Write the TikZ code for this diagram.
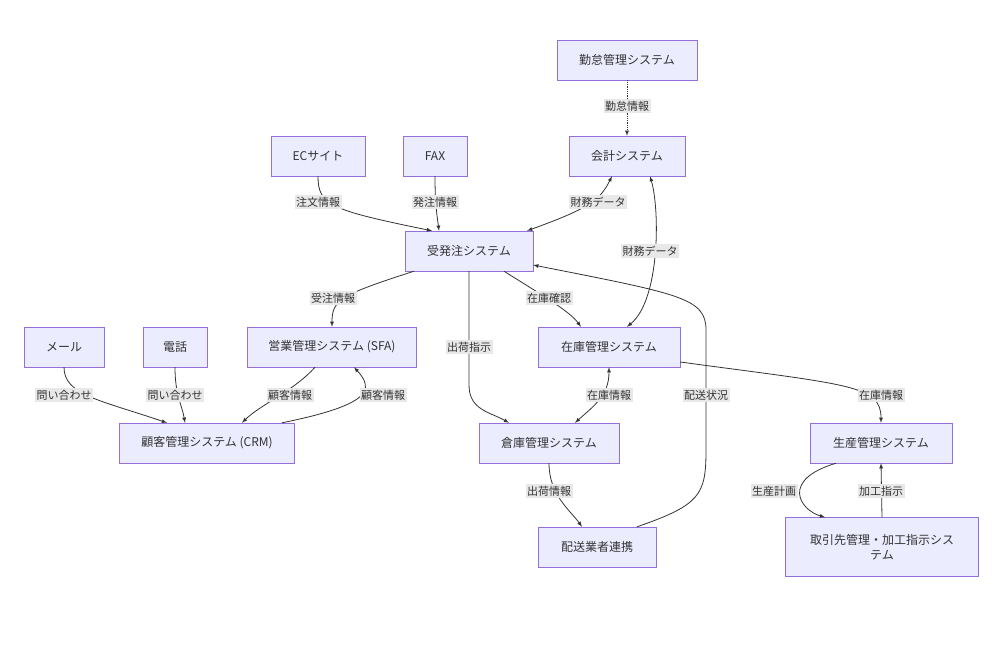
\documentclass[tikz,border=0pt]{standalone}
\usepackage{fontspec}
\setmainfont{Noto Sans CJK JP}
\definecolor{boxfill}{HTML}{ECECFF}
\definecolor{boxline}{HTML}{9370DB}
\definecolor{edgecol}{HTML}{333333}
\definecolor{lblfill}{HTML}{E8E8E8}
\tikzset{
  sys/.style={draw=boxline,fill=boxfill,rectangle,minimum height=40pt,inner sep=0pt,font=\fontsize{12}{15}\selectfont,text=edgecol},
  lbl/.style={fill=lblfill,inner sep=1.5pt,font=\fontsize{11}{13}\selectfont,text=edgecol},
  flow/.style={draw=edgecol,line width=0.8pt,-latex},
  both/.style={draw=edgecol,line width=0.8pt,latex-latex},
}
\begin{document}
\begin{tikzpicture}[x=1pt,y=-1pt]
\useasboundingbox (0,0) rectangle (1006,660);
%%
\node (kintai) at (627,60) [sys,minimum width=140pt] {勤怠管理システム};
\node (kaikei) at (627,156) [sys,minimum width=116pt] {会計システム};
\node (ec) at (318,156) [sys,minimum width=94pt] {ECサイト};
\node (fax) at (435,156) [sys,minimum width=64pt] {FAX};
\node (juhatchu) at (469,251) [sys,minimum width=128pt] {受発注システム};
\node (sfa) at (332,347) [sys,minimum width=169pt] {営業管理システム (SFA)};
\node (mail) at (64,347) [sys,minimum width=80pt] {メール};
\node (tel) at (175,347) [sys,minimum width=64pt] {電話};
\node (zaiko) at (609,347) [sys,minimum width=142pt] {在庫管理システム};
\node (crm) at (207,443) [sys,minimum width=175pt] {顧客管理システム (CRM)};
\node (souko) at (549,443) [sys,minimum width=140pt] {倉庫管理システム};
\node (seisan) at (881,443) [sys,minimum width=142pt] {生産管理システム};
\node (haisou) at (597,547) [sys,minimum width=118pt] {配送業者連携};
\node (torihiki) at (882,547) [sys,minimum width=193pt,minimum height=59pt,align=center] {取引先管理・加工指示シス\\テム};
%%
\draw [flow,densely dotted] (kintai) -- (kaikei);
\draw [flow] (ec.south) .. controls (318,205) and (330,210) .. ([xshift=-37pt]juhatchu.north);
\draw [flow] (fax.south) .. controls (435,205) and (437,215) .. ([xshift=-30pt]juhatchu.north);
\draw [both] ([xshift=-15pt]kaikei.south) .. controls (600,200) and (590,208) .. ([xshift=58pt]juhatchu.north);
\draw [both] ([xshift=23pt]kaikei.south) .. controls (660,210) and (660,300) .. ([xshift=18pt]zaiko.north);
\draw [flow] ([xshift=-55pt]juhatchu.south) .. controls (340,295) and (332,300) .. (sfa.north);
\draw [flow] ([xshift=35pt]juhatchu.south) .. controls (550,300) and (570,312) .. ([xshift=-28pt]zaiko.north);
\draw [flow] (juhatchu.south) -- (469,385) .. controls (469,410) and (490,412) .. ([xshift=-40pt]souko.north);
\draw [flow] ([xshift=40pt]haisou.north) .. controls (700,505) and (706,495) .. (706,450) -- (706,330) .. controls (706,298) and (680,294) .. ([yshift=-14pt]juhatchu.east);
\draw [flow] (mail.south) .. controls (64,395) and (100,400) .. ([xshift=-40pt]crm.north);
\draw [flow] (tel.south) .. controls (175,395) and (182,405) .. ([xshift=-22pt]crm.north);
\draw [flow] ([xshift=-17pt]sfa.south) .. controls (295,390) and (260,405) .. ([xshift=35pt]crm.north);
\draw [flow] ([xshift=75pt]crm.north) .. controls (370,405) and (375,390) .. ([xshift=22pt]sfa.south);
\draw [both] (zaiko.south) .. controls (609,395) and (595,405) .. ([xshift=26pt]souko.north);
\draw [flow] ([yshift=-15pt]zaiko.east) .. controls (850,385) and (881,385) .. (seisan.north);
\draw [flow] (souko.south) .. controls (549,495) and (570,510) .. ([xshift=-15pt]haisou.north);
\draw [flow] ([xshift=-45pt]seisan.south) .. controls (780,480) and (800,510) .. ([xshift=-57pt]torihiki.north);
\draw [flow] (torihiki.north) -- (seisan.south);
%%
\node [lbl] (l1) at (627,106) {勤怠情報};
\node [lbl] (l2) at (318,202) {注文情報};
\node [lbl] (l3) at (435,202) {発注情報};
\node [lbl] (l4) at (598,202) {財務データ};
\node [lbl] (l5) at (650,251) {財務データ};
\node [lbl] (l6) at (333,298) {受注情報};
\node [lbl] (l7) at (549,298) {在庫確認};
\node [lbl] (l8) at (469,347) {出荷指示};
\node [lbl] (l9) at (706,395) {配送状況};
\node [lbl] (l10) at (64,395) {問い合わせ};
\node [lbl] (l11) at (175,395) {問い合わせ};
\node [lbl] (l12) at (290,395) {顧客情報};
\node [lbl] (l13) at (383,395) {顧客情報};
\node [lbl] (l14) at (609,395) {在庫情報};
\node [lbl] (l15) at (881,395) {在庫情報};
\node [lbl] (l16) at (549,491) {出荷情報};
\node [lbl] (l17) at (774,491) {生産計画};
\node [lbl] (l18) at (881,491) {加工指示};
%
\end{tikzpicture}
\end{document}
